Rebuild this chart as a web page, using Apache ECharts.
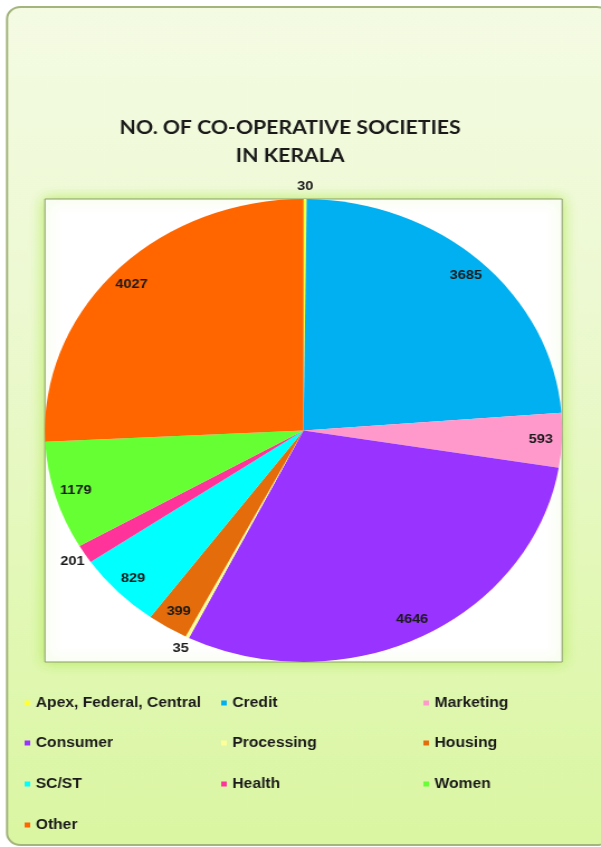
<!DOCTYPE html>
<html>
<head>
<meta charset="utf-8">
<script src="https://cdn.jsdelivr.net/npm/echarts@6/dist/echarts.min.js"></script>
<style>
html,body{margin:0;padding:0;background:#ffffff;}
#wrap{position:relative;width:601px;height:847px;overflow:hidden;}
/* the reference picture is stretched horizontally; draw at natural width and stretch */
#chart{position:absolute;left:0;top:0;width:538px;height:847px;transform-origin:0 0;transform:scaleX(1.1171);}
</style>
</head>
<body>
<div id="wrap"><div id="chart"></div></div>
<script>
// ---- data ----
const categories = ['Apex, Federal, Central','Credit','Marketing','Consumer','Processing','Housing','SC/ST','Health','Women','Other'];
const values = [30, 3685, 593, 4646, 35, 399, 829, 201, 1179, 4027];
const titleLines = ['NO. OF CO-OPERATIVE SOCIETIES', 'IN KERALA'];

// ---- styles ----
const palette = ['#ffff33','#00b0f0','#ff99cc','#9933ff','#ffff99','#e46c0a','#00ffff','#ff3399','#66ff33','#ff6600'];
const smallSlices = ['Apex, Federal, Central', 'Processing', 'Health'];
const labelFont = {fontFamily: 'Liberation Sans', fontWeight: 'bold', fontSize: 13, color: '#1a1a1a'};

const dataItems = categories.map((n, i) => ({name: n, value: values[i]}));

const chart = echarts.init(document.getElementById('chart'), null, {renderer: 'canvas'});
const cx = 271.7, cy = 430.5, R = 231.5;
const legendLefts = [22, 198, 379];
const rowCenters = [703, 743, 784, 825];

chart.setOption({
  animation: false,
  color: palette,
  graphic: [
    {type: 'rect', z: 0, shape: {x: 6.3, y: 7, width: 540, height: 838, r: 12},
     style: {fill: {type: 'linear', x: 0, y: 0, x2: 0, y2: 1, colorStops: [
       {offset: 0, color: '#f4fbe3'}, {offset: 0.35, color: '#edf9d2'}, {offset: 0.7, color: '#e2f8b6'}, {offset: 1, color: '#daf6a2'}]},
       stroke: '#a3b57c', lineWidth: 2}},
    {type: 'rect', z: 1, shape: {x: cx - R, y: cy - R, width: 2 * R, height: 2 * R},
     style: {fill: '#ffffff', stroke: '#8d9b72', lineWidth: 1, shadowBlur: 12, shadowColor: 'rgba(175,235,80,0.9)'}}
  ],
  title: {
    text: titleLines.join('\n'), left: 259.7, top: 114, textAlign: 'center', padding: 0,
    textStyle: {fontFamily: 'Lato', fontWeight: 'bold', fontSize: 19, lineHeight: 28, color: '#1a1a1a'}
  },
  legend: categories.map((n, i) => ({
    data: [n], left: legendLefts[i % 3], top: rowCenters[Math.floor(i / 3)] - 7,
    padding: 0, icon: 'rect', itemWidth: 5, itemHeight: 5, itemGap: 0, selectedMode: false,
    textStyle: {fontFamily: 'Liberation Sans', fontWeight: 'bold', fontSize: 14, color: '#1a1a1a'}
  })),
  series: [
    {type: 'pie', center: [cx, cy], radius: [0, R], startAngle: 90, clockwise: true,
     silent: true, label: {show: false}, labelLine: {show: false},
     itemStyle: {borderWidth: 0}, data: dataItems},
    // labels of the larger slices, inside near the rim
    {type: 'pie', center: [cx, cy], radius: [R * 0.81, R], startAngle: 90, clockwise: true,
     silent: true, avoidLabelOverlap: false, legendHoverLink: false,
     itemStyle: {color: 'rgba(0,0,0,0)', borderWidth: 0},
     labelLine: {show: false},
     data: dataItems.map(d => ({name: d.name, value: d.value,
       label: Object.assign({show: smallSlices.indexOf(d.name) < 0, position: 'inside', formatter: '{c}'}, labelFont)}))},
    // labels of the tiny slices, just outside the rim
    {type: 'pie', center: [cx, cy], radius: [R, R + 20], startAngle: 90, clockwise: true,
     silent: true, avoidLabelOverlap: false, legendHoverLink: false,
     itemStyle: {color: 'rgba(0,0,0,0)', borderWidth: 0},
     labelLine: {show: false},
     data: dataItems.map(d => ({name: d.name, value: d.value,
       label: Object.assign({show: smallSlices.indexOf(d.name) >= 0, position: 'inside', formatter: '{c}'}, labelFont)}))}
  ]
});
</script>
</body>
</html>
